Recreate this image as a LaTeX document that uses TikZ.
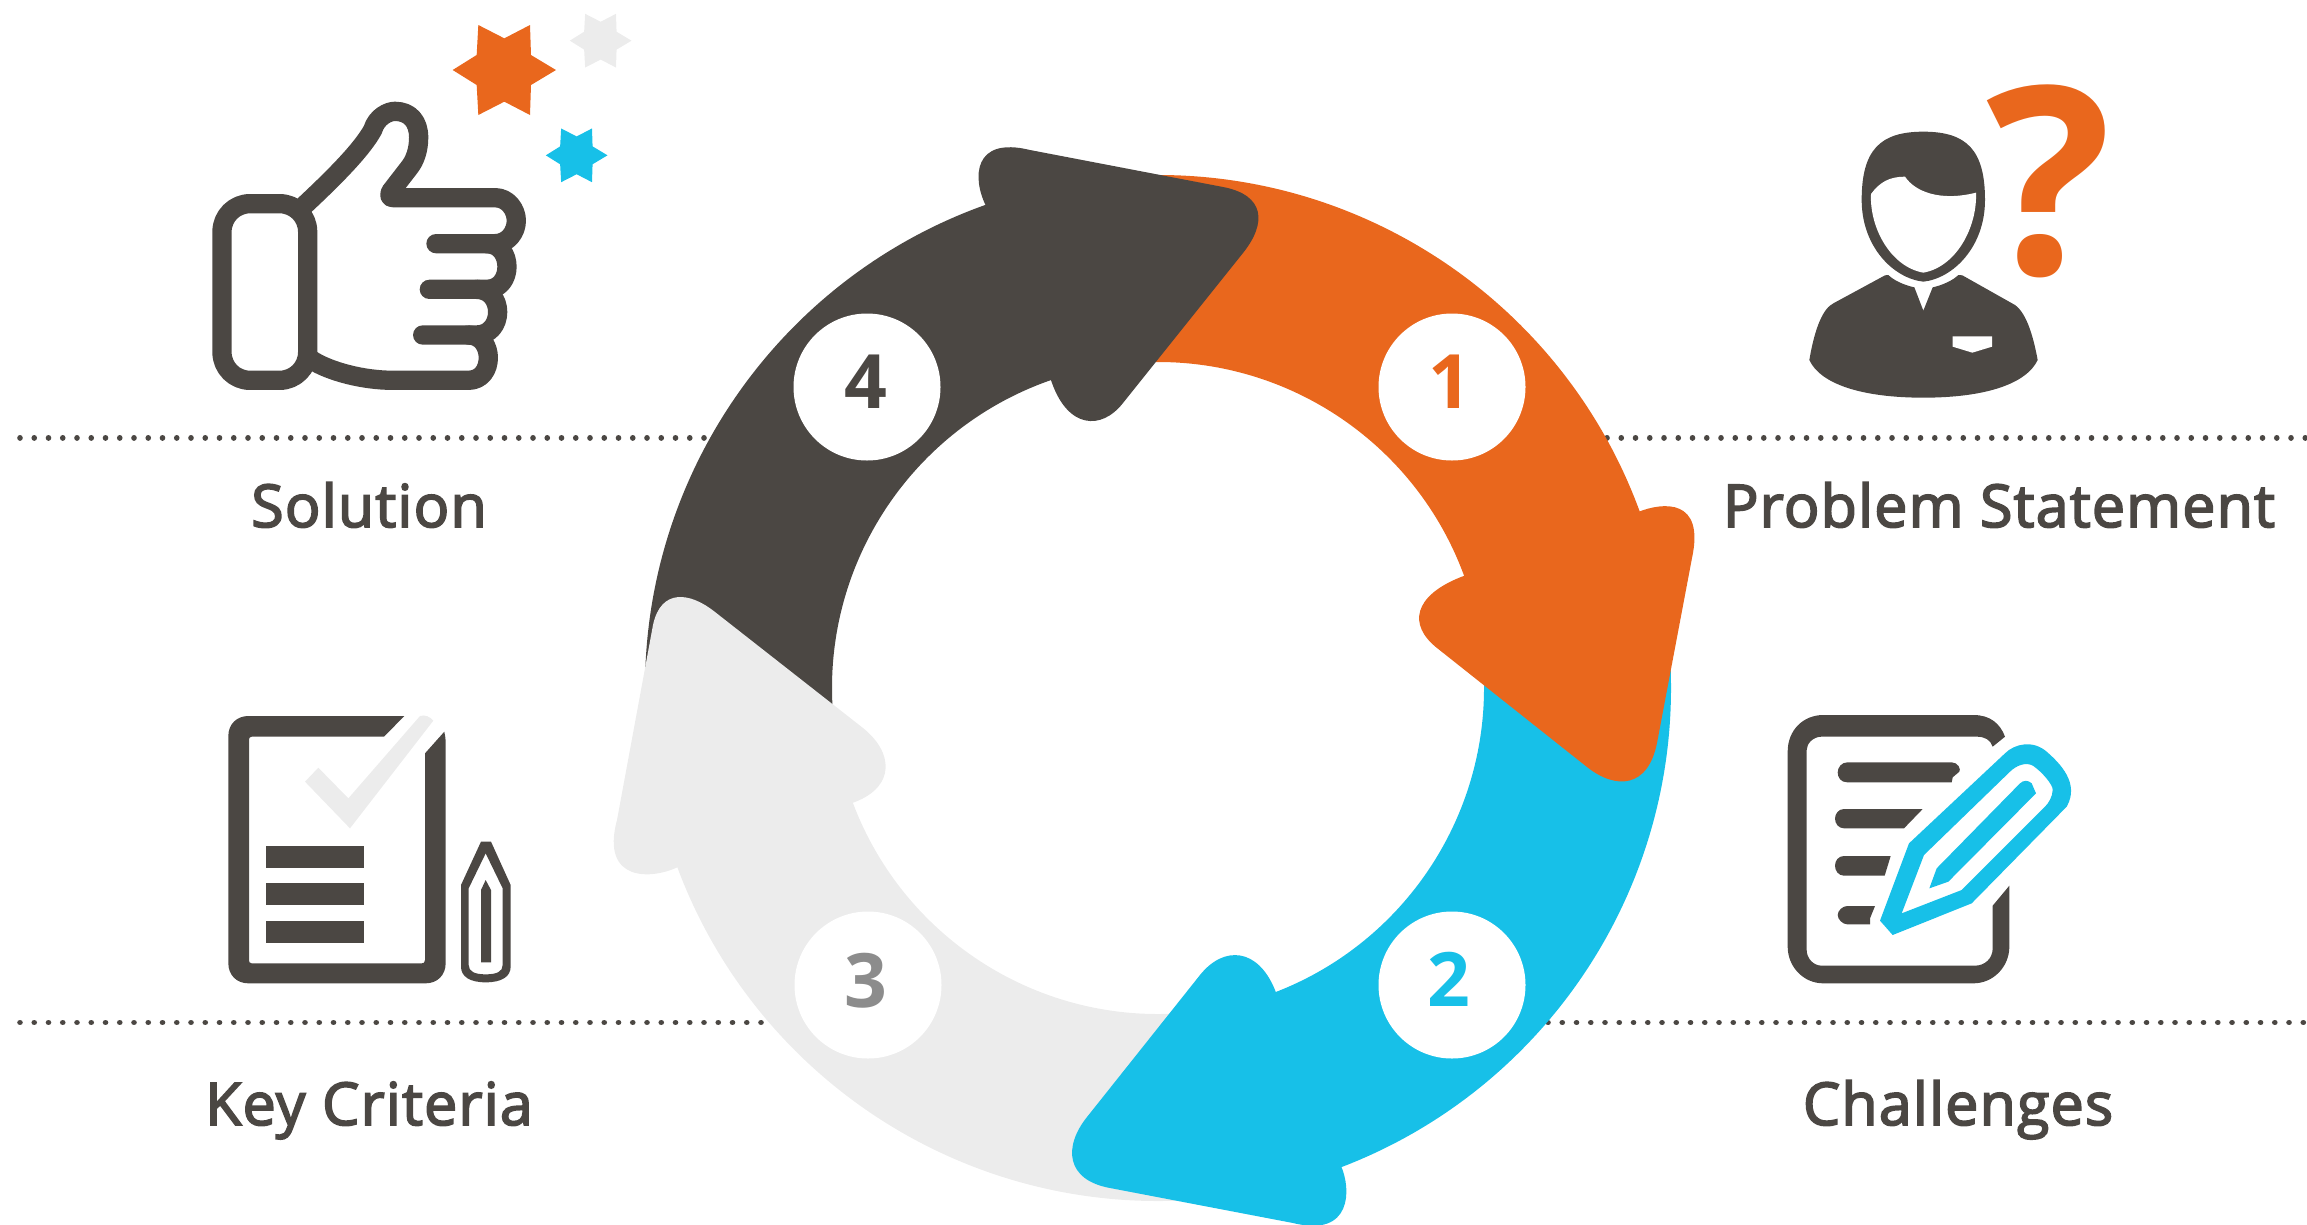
\documentclass[tikz,border=0pt]{standalone}
\usepackage{fontspec}
\setmainfont{Open Sans}
\newfontfamily\labelfont[LetterSpace=2.1,FakeBold=3]{Open Sans}
\newfontfamily\digitfont{Open Sans}
\definecolor{cOrange}{HTML}{E9671D}
\definecolor{cBlue}{HTML}{17C0E8}
\definecolor{cGrey}{HTML}{ECECEC}
\definecolor{cDark}{HTML}{4B4743}
\definecolor{cDigit}{HTML}{8C8C8C}
\newcommand{\ringbody}[2]{\fill[#1,shift={(1158,-688)},rotate=#2]
  (93:513) arc[start angle=93,end angle=15,radius=513]
  -- (15:326) arc[start angle=15,end angle=93,radius=326] -- cycle;}
\newcommand{\hexstar}[4]{\fill[#4,shift={(#1,#2)},scale=#3]
  (-155,0) -- (-83,-45) -- (-78,-135) -- (0,-95) -- (77,-135) -- (80,-45)
  -- (155,0) -- (80,45) -- (77,135) -- (0,95) -- (-78,135) -- (-83,45) -- cycle;}
\tikzset{
  zoomed/.style 2 args={x=0.33333pt,y=-0.33333pt,shift={(#1pt,-#2pt)}},
  ringframe/.style={shift={(1158,-688)},rotate=#1},
  dotline/.style={cDark,line width=5.6pt,line cap=round,dash pattern=on 0.01pt off 14.24pt},
  thumbline/.style={cDark,line width=19.3pt,line cap=round,line join=round},
  caption/.style={text=cDark,anchor=base,inner sep=0pt,font=\labelfont\fontsize{59}{59}\selectfont},
  badge/.style={circle,fill=white,minimum size=147pt,inner sep=0pt},
  digit/.style={anchor=base,inner sep=0pt,font=\digitfont\bfseries\fontsize{75}{75}\selectfont}
}
\begin{document}
\begin{tikzpicture}[x=1pt,y=1pt]
\useasboundingbox (0,0) rectangle (2307,-1224);
% dotted rules
\coordinate (tl0) at (20,-437.7); \coordinate (tl1) at (705,-437.7);
\coordinate (tr0) at (1607,-437.7); \coordinate (tr1) at (2306,-437.7);
\coordinate (bl0) at (20,-1022.5); \coordinate (bl1) at (772,-1022.5);
\coordinate (br0) at (1548,-1022.5); \coordinate (br1) at (2306,-1022.5);
\draw[dotline] (tl0) -- (tl1);
\draw[dotline] (tr0) -- (tr1);
\draw[dotline] (bl0) -- (bl1);
\draw[dotline] (br0) -- (br1);
% ring
\ringbody{cOrange}{0}
\ringbody{cBlue}{-90}
\ringbody{cGrey}{-180}
\ringbody{cDark}{90}
\fill[cOrange,ringframe=0] (480,176) .. controls (505,186) and (547,190) .. (534,130)
  -- (499,-55) .. controls (490,-100) and (458,-102) .. (429,-79)
  -- (279,40) .. controls (250,63) and (255,92) .. (303,111) -- cycle;
\fill[cBlue,ringframe=-90] (478,183) .. controls (500,193) and (550,195) .. (535,135)
  -- (500,-48) .. controls (492,-92) and (459,-95) .. (429,-71)
  -- (287,42) .. controls (257,66) and (260,100) .. (302,117) -- cycle;
\fill[cGrey,ringframe=-180] (478,178) .. controls (505,192) and (558,195) .. (541,132)
  -- (505,-63) .. controls (497,-100) and (468,-96) .. (443,-76)
  -- (295,40) .. controls (265,64) and (262,98) .. (303,114) -- cycle;
\fill[cDark,ringframe=90] (482,172) .. controls (510,186) and (552,185) .. (538,128)
  -- (501,-65) .. controls (493,-107) and (465,-109) .. (435,-85)
  -- (285,35) .. controls (257,57) and (260,90) .. (305,106) -- cycle;
\node[badge] (b1) at (1452,-387) {};
\node[badge] (b2) at (1452,-985) {};
\node[badge] (b3) at (868,-985) {};
\node[badge] (b4) at (867,-387) {};
\node[digit,text=cOrange] (d1) at (1450,-408) {1};
\node[digit,text=cBlue] (d2) at (1449,-1006) {2};
\node[digit,text=cDigit] (d3) at (866,-1007) {3};
\node[digit,text=cDark] (d4) at (866,-408) {4};
% captions
\node[caption] (solution) at (369,-527) {Solution};
\node[caption] (problem) at (1999,-527) {Problem Statement};
\node[caption] (criteria) at (369,-1125) {Key Criteria};
\node[caption] (challenges) at (1958,-1125) {Challenges};
% thumb icon
\begin{scope}[zoomed={180}{0}]
\draw[thumbline,rounded corners=28pt] (126,611) rectangle (383,1141);
\draw[thumbline]
  (371,618) .. controls (460,535) and (545,450) .. (578,390)
  .. controls (590,350) and (625,334) .. (645,334)
  .. controls (690,334) and (716,365) .. (716,412)
  .. controls (716,450) and (705,480) .. (690,500) -- (632,575)
  .. controls (628,585) and (628,593) .. (640,593)
  -- (945,593) .. controls (985,593) and (1009,630) .. (1009,662)
  .. controls (1009,695) and (985,731) .. (945,731) -- (768,731);
\draw[thumbline]
  (920,731) .. controls (960,731) and (981,765) .. (981,800)
  .. controls (981,835) and (960,868) .. (920,868) -- (748,868);
\draw[thumbline]
  (890,868) .. controls (930,868) and (953,900) .. (953,936)
  .. controls (953,972) and (930,1005) .. (890,1005) -- (728,1005);
\draw[thumbline]
  (865,1005) .. controls (905,1005) and (925,1040) .. (925,1073)
  .. controls (925,1108) and (905,1141) .. (865,1141) -- (640,1141)
  .. controls (550,1141) and (450,1115) .. (395,1080);
\hexstar{973}{210}{1}{cOrange}
\hexstar{1262}{122}{0.597}{cGrey}
\hexstar{1190}{466}{0.597}{cBlue}
\end{scope}
% person icon
\begin{scope}[zoomed={1780}{60}]
\fill[cDark] (430,215) .. controls (300,215) and (245,270) .. (245,420)
  .. controls (245,560) and (340,655) .. (430,665)
  .. controls (520,655) and (615,560) .. (615,420)
  .. controls (615,270) and (560,215) .. (430,215) -- cycle;
\fill[white] (273,402) .. controls (300,365) and (330,350) .. (375,350)
  .. controls (405,395) and (480,425) .. (588,398)
  .. controls (592,500) and (530,620) .. (430,638)
  .. controls (330,620) and (268,500) .. (273,402) -- cycle;
\fill[cDark] (88,900) .. controls (105,800) and (130,745) .. (160,730)
  -- (315,646) -- (325,645)
  .. controls (340,660) and (370,675) .. (403,682) -- (430,752) -- (458,682)
  .. controls (490,675) and (520,660) .. (535,645) -- (547,646)
  -- (705,735) .. controls (740,760) and (760,830) .. (773,900)
  .. controls (740,970) and (620,1013) .. (430,1013)
  .. controls (240,1013) and (120,970) .. (88,900) -- cycle;
\fill[white] (518,829) -- (636,829) -- (636,860) -- (577,878) -- (518,860) -- cycle;
\end{scope}
\node[anchor=base,inner sep=0pt,text=cOrange,font=\digitfont\bfseries\fontsize{262}{262}\selectfont] (qmark) at (2049,-274) {?};
% key criteria icon
\begin{scope}[zoomed={200}{690}]
\fill[cDark] (613,78) -- (145,78) .. controls (110,78) and (85,103) .. (85,138)
  -- (85,820) .. controls (85,855) and (110,880) .. (145,880)
  -- (677,880) .. controls (712,880) and (737,855) .. (737,820)
  -- (737,160) .. controls (737,145) and (735,135) .. (733,125)
  -- (675,190) -- (675,810) .. controls (675,818) and (671,820) .. (665,820)
  -- (155,820) .. controls (149,820) and (147,816) .. (147,810)
  -- (147,150) .. controls (147,144) and (149,140) .. (155,140)
  -- (552,140) -- cycle;
\fill[cGrey] (315,275) -- (355,233) -- (445,325) -- (660,78)
  .. controls (675,73) and (690,80) .. (700,92) -- (450,415) -- cycle;
\fill[cDark] (198,468) rectangle (492,533);
\fill[cDark] (198,579) rectangle (492,644);
\fill[cDark] (198,693) rectangle (492,758);
\fill[cDark,even odd rule]
  (783,585) -- (843,455) -- (873,455) -- (932,585) -- (932,830)
  .. controls (932,860) and (905,877) .. (857,877)
  .. controls (810,877) and (783,860) .. (783,830) -- cycle
  (806,595) -- (857,490) -- (908,595) -- (908,825)
  .. controls (908,845) and (890,853) .. (857,853)
  .. controls (825,853) and (806,845) .. (806,825) -- cycle;
\fill[cDark] (843,600) -- (857,570) -- (873,600) -- (873,817) -- (843,817) -- cycle;
\end{scope}
% challenges icon
\begin{scope}[zoomed={1760}{690}]
\fill[cDark] (735,140) .. controls (720,100) and (690,75) .. (640,75)
  -- (190,75) .. controls (130,75) and (83,120) .. (83,185)
  -- (83,770) .. controls (83,830) and (130,880) .. (190,880)
  -- (640,880) .. controls (700,880) and (748,830) .. (748,770)
  -- (748,587) -- (698,647) -- (698,775)
  .. controls (698,805) and (675,827) .. (645,827)
  -- (185,827) .. controls (160,827) and (140,805) .. (140,780)
  -- (140,180) .. controls (140,160) and (160,140) .. (185,140)
  -- (650,140) .. controls (675,140) and (692,150) .. (698,170) -- cycle;
\fill[cDark] (262,217) -- (575,217) .. controls (595,217) and (603,238) .. (598,245)
  -- (578,262) -- (575,277) -- (262,277)
  .. controls (242,277) and (233,262) .. (233,247)
  .. controls (233,232) and (245,217) .. (262,217) -- cycle;
\fill[cDark] (252,357) -- (488,357) -- (432,415) -- (252,415)
  .. controls (235,415) and (225,400) .. (225,386)
  .. controls (225,372) and (235,357) .. (252,357) -- cycle;
\fill[cDark] (252,498) -- (392,498) -- (374,557) -- (252,557)
  .. controls (235,557) and (225,542) .. (225,527)
  .. controls (225,512) and (235,498) .. (252,498) -- cycle;
\fill[cDark] (262,648) -- (345,648) -- (330,685) -- (330,703) -- (262,703)
  .. controls (248,703) and (233,688) .. (233,675)
  .. controls (233,662) and (248,648) .. (262,648) -- cycle;
\fill[cBlue,even odd rule]
  (360,692) -- (447,460) -- (735,190)
  .. controls (765,160) and (820,150) .. (860,185)
  .. controls (900,220) and (960,280) .. (920,350)
  -- (635,640) -- (398,735) -- cycle
  (425,670) -- (492,495) -- (750,245)
  .. controls (770,225) and (800,215) .. (820,228)
  .. controls (845,245) and (880,285) .. (878,300)
  .. controls (878,320) and (865,340) .. (855,350)
  -- (605,600) -- cycle;
\fill[cBlue] (508,595) -- (530,535) -- (780,280)
  .. controls (790,270) and (805,270) .. (815,280)
  -- (828,310) -- (565,575) -- cycle;
\end{scope}
\end{tikzpicture}
\end{document}
